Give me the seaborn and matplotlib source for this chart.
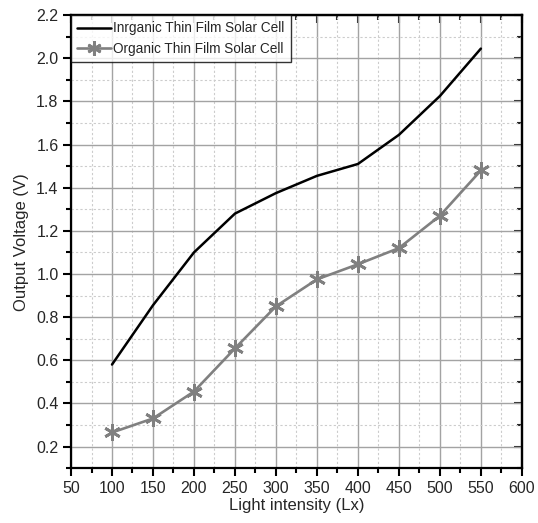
import matplotlib
matplotlib.use("Agg")
import matplotlib.pyplot as plt
from matplotlib import font_manager
from matplotlib.ticker import MultipleLocator, FormatStrFormatter
import pandas as pd
import seaborn as sns

# Light intensity (Lx) and measured output voltages (V)
light_lx = [100, 150, 200, 250, 300, 350, 400, 450, 500, 550]
inorganic_v = [0.58, 0.855, 1.10, 1.28, 1.375, 1.455, 1.51, 1.645, 1.825, 2.045]
organic_v = [0.265, 0.33, 0.455, 0.655, 0.85, 0.975, 1.045, 1.12, 1.27, 1.48]

series_names = ["Inrganic Thin Film Solar Cell", "Organic Thin Film Solar Cell"]
x_label = "Light intensity (Lx)"
y_label = "Output Voltage (V)"

sns.set_theme(style="ticks")

installed = {f.name for f in font_manager.fontManager.ttflist}
family = "Liberation Sans Narrow" if "Liberation Sans Narrow" in installed else "Liberation Sans"
plt.rcParams["font.family"] = [family, "DejaVu Sans"]

df = pd.DataFrame({
    "x": light_lx * 2,
    "v": inorganic_v + organic_v,
    "series": [series_names[0]] * len(light_lx) + [series_names[1]] * len(light_lx),
})

fig = plt.figure(figsize=(5.38, 5.23), dpi=100)
ax = fig.add_axes([0.132, 0.105, 0.838, 0.866])

sns.lineplot(data=df[df.series == series_names[0]], x="x", y="v", ax=ax,
             color="black", linewidth=1.8, label=series_names[0], zorder=4)
sns.lineplot(data=df[df.series == series_names[1]], x="x", y="v", ax=ax,
             color="#808080", linewidth=1.9, marker=(6, 2, 0), markersize=12,
             markeredgewidth=2.0, markeredgecolor="#808080",
             label=series_names[1], zorder=5)

ax.set_xlim(50, 600)
ax.set_ylim(0.1, 2.2)
ax.xaxis.set_major_locator(MultipleLocator(50))
ax.xaxis.set_minor_locator(MultipleLocator(25))
ax.yaxis.set_major_locator(MultipleLocator(0.2))
ax.yaxis.set_minor_locator(MultipleLocator(0.1))
ax.yaxis.set_major_formatter(FormatStrFormatter("%.1f"))

ax.grid(which="major", color="#a3a3a3", linewidth=1.0, linestyle="-")
ax.grid(which="minor", color="#cccccc", linewidth=0.8, linestyle=(0, (2, 2)))
ax.set_axisbelow(True)

for s in ax.spines.values():
    s.set_color("black")
    s.set_linewidth(1.6)
    s.set_visible(True)

ax.tick_params(which="both", direction="out", color="black", width=1.5,
               labelsize=11.5, top=False, right=False, pad=3)
ax.tick_params(which="major", length=6)
ax.tick_params(which="minor", length=3.5)

# inward ticks on the top and right edges
ax_t = ax.secondary_xaxis("top")
ax_t.xaxis.set_major_locator(MultipleLocator(50))
ax_t.xaxis.set_minor_locator(MultipleLocator(25))
ax_t.tick_params(which="both", direction="in", width=1.5, labeltop=False)
ax_t.tick_params(which="major", length=6)
ax_t.tick_params(which="minor", length=3.5)
ax_r = ax.secondary_yaxis("right")
ax_r.yaxis.set_major_locator(MultipleLocator(0.2))
ax_r.yaxis.set_minor_locator(MultipleLocator(0.1))
ax_r.tick_params(which="both", direction="in", width=1.5, labelright=False)
ax_r.tick_params(which="major", length=6)
ax_r.tick_params(which="minor", length=3.5)
for a in (ax_t, ax_r):
    for s in a.spines.values():
        s.set_linewidth(1.6)

ax.set_xlabel(x_label, fontsize=12, labelpad=2)
ax.set_ylabel(y_label, fontsize=12, labelpad=5)

leg = ax.legend(loc="upper left", bbox_to_anchor=(0, 1), borderaxespad=0,
                frameon=True, fancybox=False, fontsize=9.8, handlelength=2.5,
                handletextpad=0.15, borderpad=0.45, labelspacing=0.5,
                markerscale=0.85)
leg.get_frame().set_edgecolor("black")
leg.get_frame().set_linewidth(1.0)
leg.set_zorder(10)

fig.savefig("out.png", dpi=100)
